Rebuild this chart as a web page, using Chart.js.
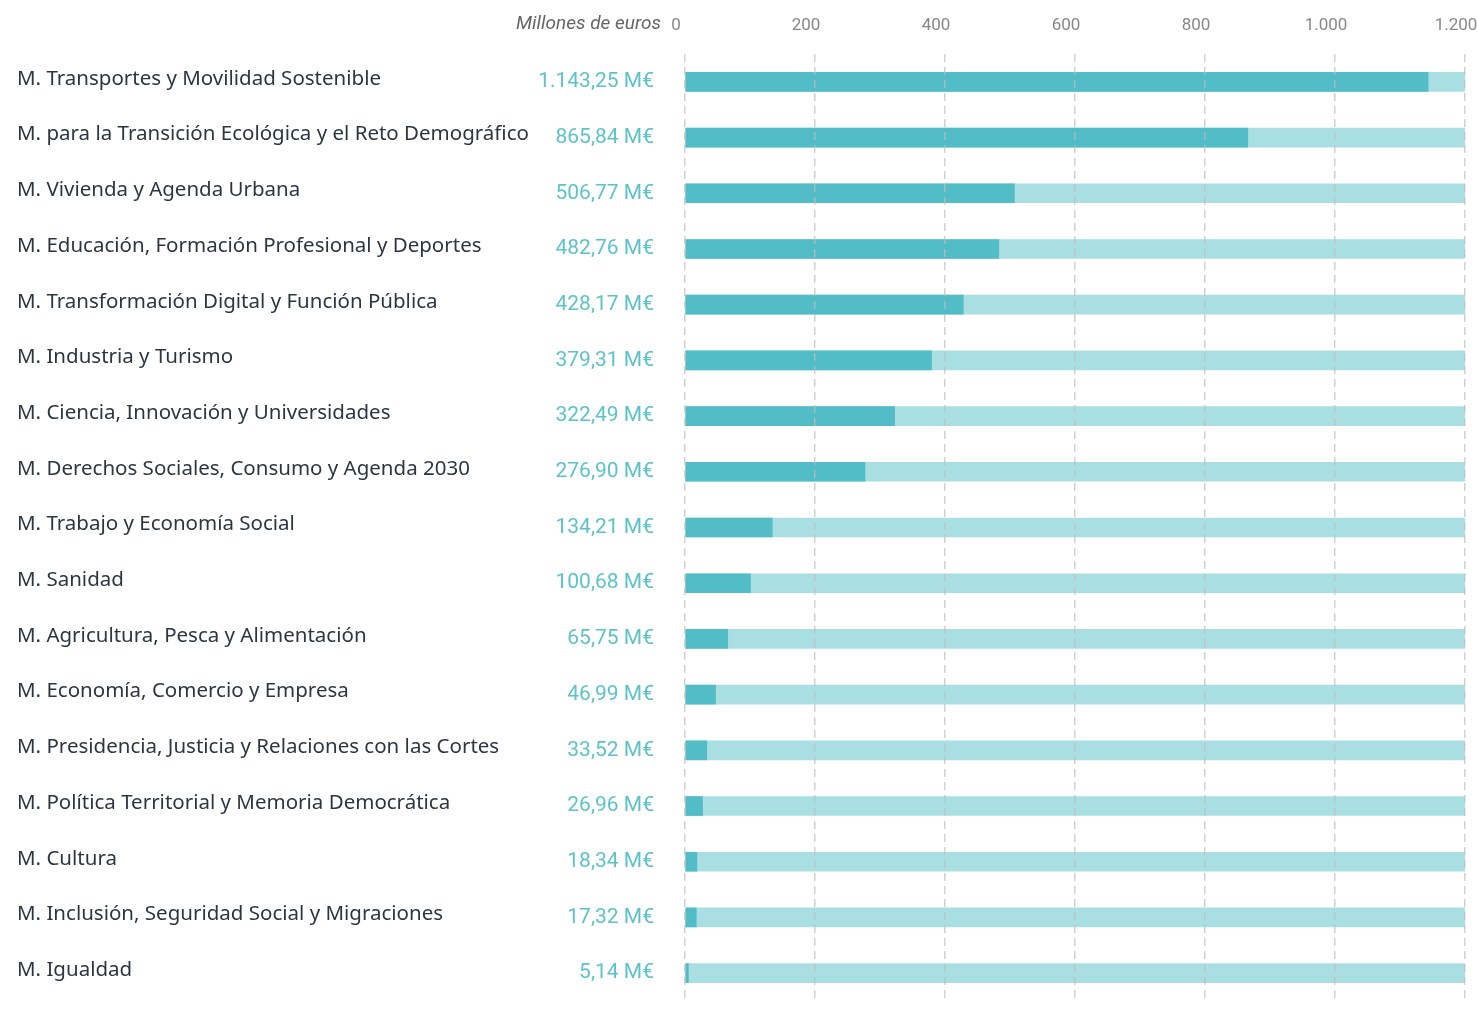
<!DOCTYPE html>
<html>
<head>
<meta charset="utf-8">
<script src="https://cdn.jsdelivr.net/npm/chart.js@4.4.1/dist/chart.umd.min.js"></script>
<style>
  body { margin: 0; background: #fff; }
  #wrap { width: 1477px; height: 1011px; }
</style>
</head>
<body>
<div id="wrap"><canvas id="gasto" width="1477" height="1011"></canvas></div>
<script>
// ministerios (categorias)
const ministerios = [
  'M. Transportes y Movilidad Sostenible',
  'M. para la Transición Ecológica y el Reto Demográfico',
  'M. Vivienda y Agenda Urbana',
  'M. Educación, Formación Profesional y Deportes',
  'M. Transformación Digital y Función Pública',
  'M. Industria y Turismo',
  'M. Ciencia, Innovación y Universidades',
  'M. Derechos Sociales, Consumo y Agenda 2030',
  'M. Trabajo y Economía Social',
  'M. Sanidad',
  'M. Agricultura, Pesca y Alimentación',
  'M. Economía, Comercio y Empresa',
  'M. Presidencia, Justicia y Relaciones con las Cortes',
  'M. Política Territorial y Memoria Democrática',
  'M. Cultura',
  'M. Inclusión, Seguridad Social y Migraciones',
  'M. Igualdad'
];

// millones de euros
const importes = [1143.25, 865.84, 506.77, 482.76, 428.17, 379.31, 322.49, 276.90,
  134.21, 100.68, 65.75, 46.99, 33.52, 26.96, 18.34, 17.32, 5.14];

const maximo = 1200;
const fondo = ministerios.map(() => maximo);

const ticksX = ['0', '200', '400', '600', '800', '1.000', '1.200'];

const etiquetasImporte = importes.map(v => {
  const [ent, dec] = v.toFixed(2).split('.');
  const entero = ent.replace(/\B(?=(\d{3})+(?!\d))/g, '.');
  return entero + ',' + dec + ' M€';
});

const estrecha = 'Roboto, sans-serif';
const anchoNombres = 520;

const tituloEje = {
  id: 'tituloEje',
  afterDraw(chart) {
    const ctx = chart.ctx;
    ctx.save();
    ctx.font = 'italic 19px Roboto';
    ctx.fillStyle = '#666';
    ctx.textAlign = 'right';
    ctx.textBaseline = 'middle';
    ctx.fillText('Millones de euros', 661, 24);
    ctx.restore();
  }
};

const sinPaddingV = s => { s.paddingTop = 0; s.paddingBottom = 0; };

const ctx = document.getElementById('gasto').getContext('2d');
new Chart(ctx, {
  type: 'bar',
  data: {
    labels: ministerios,
    datasets: [
      {
        label: 'Importe',
        data: importes,
        backgroundColor: '#52bdc6',
        barThickness: 19,
        grouped: false,
        order: 1
      },
      {
        label: 'Fondo',
        data: fondo,
        backgroundColor: '#a9dfe3',
        barThickness: 19,
        grouped: false,
        order: 2
      }
    ]
  },
  options: {
    indexAxis: 'y',
    responsive: false,
    animation: false,
    maintainAspectRatio: false,
    layout: { padding: { left: 17, right: 12, top: 0, bottom: 10 } },
    plugins: {
      legend: { display: false },
      tooltip: { enabled: false }
    },
    scales: {
      x: {
        position: 'top',
        min: 0,
        max: maximo,
        afterFit: s => { s.height = 54; s.paddingLeft = 0; s.paddingRight = 0; },
        ticks: {
          stepSize: 200,
          padding: 18,
          labelOffset: -9,
          maxRotation: 0,
          color: '#888',
          font: { family: estrecha, size: 17 },
          callback: (v, i) => ticksX[i]
        },
        grid: {
          z: 1,
          drawTicks: false,
          color: 'rgba(190,190,190,0.7)',
          lineWidth: 1.5
        },
        border: { display: false, dash: [8, 5] }
      },
      y: {
        position: 'left',
        weight: 2,
        afterFit: s => { s.width = anchoNombres; sinPaddingV(s); },
        ticks: {
          crossAlign: 'far',
          labelOffset: -3,
          color: '#2f3540',
          font: { family: '"Noto Sans", sans-serif', size: 20.5 }
        },
        grid: { display: false, drawTicks: false },
        border: { display: false }
      },
      importe: {
        type: 'category',
        position: 'left',
        weight: 1,
        labels: etiquetasImporte,
        afterFit: s => { s.width = 685 - 17 - anchoNombres; sinPaddingV(s); },
        ticks: {
          padding: 31,
          color: '#5cc3c9',
          font: { family: estrecha, size: 21 }
        },
        grid: { display: false, drawTicks: false },
        border: { display: false }
      }
    }
  },
  plugins: [tituloEje]
});
</script>
</body>
</html>
